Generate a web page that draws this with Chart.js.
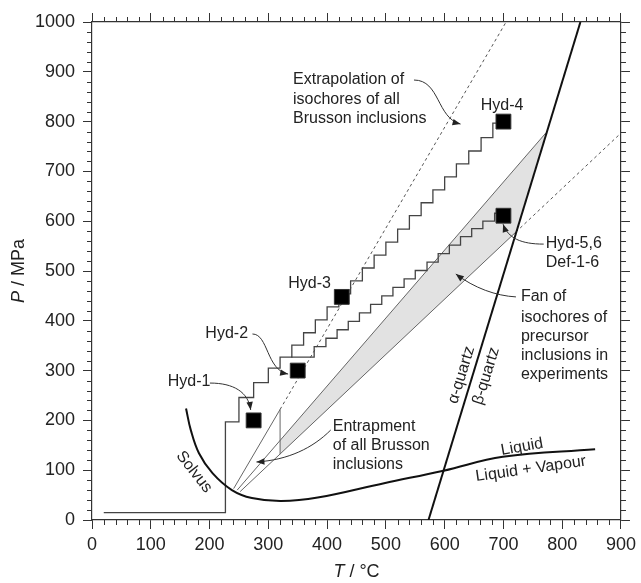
<!DOCTYPE html>
<html><head><meta charset="utf-8">
<script src="https://cdn.jsdelivr.net/npm/chart.js@4.4.1/dist/chart.umd.min.js"></script>
<style>html,body{margin:0;padding:0;background:#fff}canvas{display:block}</style>
</head><body>
<canvas id="c" width="641" height="583"></canvas>
<script>
// ---- tick labels ----
const xTicks = [0,100,200,300,400,500,600,700,800,900];
const yTicks = [0,100,200,300,400,500,600,700,800,900,1000];

// ---- sample squares ----
const sampleNames = ['Hyd-1','Hyd-2','Hyd-3','Hyd-4','Hyd-5,6'];
const sampleT = [275, 350, 425, 700, 700];
const sampleP = [200, 300, 448, 800, 611];

// ---- upper staircase (to Hyd-4) ----
const upStepT = [20, 227, 250, 275, 300, 320, 340, 360, 380, 400, 420, 440, 460, 480, 500, 520, 540, 560, 580, 600, 620, 641, 662, 682, 692];
const upStepP = [15, 197, 246, 276, 305, 327, 351, 376, 402, 428, 454, 480, 506, 532, 558, 584, 611, 637, 663, 689, 715, 741, 768, 797, 797];

// ---- lower staircase (to Hyd-5,6) ----
const loStepT = [339, 378, 398, 417, 436, 455, 474, 493, 512, 531, 550, 570, 589, 608, 627, 646, 665, 685, 692];
const loStepP = [327, 348, 365, 382, 399, 416, 433, 450, 467, 484, 501, 518, 535, 552, 569, 585, 600, 616, 616];

// ---- solvus + liquid / liquid+vapour curve ----
const solvusT = [160, 168, 182, 205, 238, 272, 322, 384, 497, 598, 699, 856];
const solvusP = [224, 181, 134, 94, 60, 44, 38, 45, 74, 99, 127, 142];

// ---- alpha/beta quartz transition ----
const quartzT = [572.5, 831];
const quartzP = [0, 1000];

// ---- isochore lines ----
const isoAT = [241, 320];          // steep isochore (solid part)
const isoAP = [63, 222];
const isoADashT = [320, 704.5];    // extrapolation (dashed)
const isoADashP = [222, 1000];
const fanUpT = [247, 772];
const fanUpP = [60, 777];
const fanLoT = [252, 721];
const fanLoP = [57, 578];
const fanLoDashT = [721, 900];
const fanLoDashP = [578, 777];
const fanEdgeT = [320, 320];
const fanEdgeP = [132, 222];

// ---- grey fan polygon ----
const fanPolyT = [320, 772, 721, 320];
const fanPolyP = [160, 777, 578, 132];

const pts = (T, P) => T.map((t, i) => ({x: t, y: P[i]}));
const FONT = '"Liberation Sans", Arial, Helvetica, sans-serif';

function lineDs(T, P, o) {
  return Object.assign({type: 'scatter', data: pts(T, P), showLine: true, pointRadius: 0,
    borderColor: '#666', borderWidth: 1, fill: false, tension: 0}, o);
}

const datasets = [
  Object.assign(lineDs(sampleT, sampleP, {}), {showLine: false, pointStyle: 'rect', pointRadius: 10.5,
    backgroundColor: '#000', borderColor: '#333', borderWidth: 1, order: 0}),
  lineDs(quartzT, quartzP, {borderColor: '#111', borderWidth: 2, order: 2}),
  lineDs(solvusT, solvusP, {borderColor: '#111', borderWidth: 2, tension: 0.4, order: 2}),
  lineDs(upStepT, upStepP, {borderColor: '#444', borderWidth: 1.3, stepped: true, order: 4}),
  lineDs(loStepT, loStepP, {borderColor: '#444', borderWidth: 1.3, stepped: true, order: 4}),
  lineDs(isoAT, isoAP, {order: 6}),
  lineDs(isoADashT, isoADashP, {borderColor: '#555', borderDash: [3, 3], order: 6}),
  lineDs(fanUpT, fanUpP, {order: 6}),
  lineDs(fanLoT, fanLoP, {order: 6}),
  lineDs(fanLoDashT, fanLoDashP, {borderColor: '#555', borderDash: [3, 3], order: 6}),
  lineDs(fanEdgeT, fanEdgeP, {order: 6}),
  lineDs(fanPolyT, fanPolyP, {borderWidth: 0, borderColor: 'rgba(0,0,0,0)', backgroundColor: '#e2e2e2', fill: 'shape', order: 10})
];

const notes = [
  ['Hyd-1', 165.2, 277, 'center', 0],
  ['Hyd-2', 229.2, 373.5, 'center', 0],
  ['Hyd-3', 370.3, 474, 'center', 0],
  ['Hyd-4', 697.8, 833, 'center', 0],
  ['Extrapolation of', 342, 883.5, 'left', 0],
  ['isochores of all', 342, 843.4, 'left', 0],
  ['Brusson inclusions', 342, 805.2, 'left', 0],
  ['Hyd-5,6', 772, 556, 'left', 0],
  ['Def-1-6', 772, 516, 'left', 0],
  ['Fan of', 729.8, 448.4, 'left', 0],
  ['isochores of', 729.8, 407, 'left', 0],
  ['precursor', 729.8, 368, 'left', 0],
  ['inclusions in', 729.8, 329.3, 'left', 0],
  ['experiments', 729.8, 291.2, 'left', 0],
  ['Entrapment', 409.6, 187.3, 'left', 0],
  ['of all Brusson', 409.6, 149.2, 'left', 0],
  ['inclusions', 409.6, 111.8, 'left', 0],
  ['Solvus', 173.6, 96.4, 'center', 52],
  ['α-quartz', 628.7, 291, 'center', -73],
  ['β-quartz', 670.8, 289, 'center', -73],
  ['Liquid', 731.5, 146.6, 'center', -10],
  ['Liquid + Vapour', 746.6, 102.4, 'center', -8]
];

const arrows = [
  [[200.6, 275], [241, 275], [266, 257], [270, 221]],
  [[273, 373.5], [300, 373.5], [296.6, 301], [333.7, 293]],
  [[547.8, 883.5], [592, 883.5], [586.5, 807], [627, 795]],
  [[768.5, 554], [729.8, 554], [707.9, 566], [699.4, 594]],
  [[721.3, 448], [687.6, 450], [650, 466], [619, 494]],
  [[406.2, 180.7], [375.8, 144.6], [333.7, 120.5], [279.8, 116.5]]
];

const xMinor = [], yMinor = [];
for (let v = 0; v <= 900; v += 20) if (v % 100) xMinor.push(v);
for (let v = 0; v <= 1000; v += 20) if (v % 100) yMinor.push(v);

const deco = {
  id: 'deco',
  afterDraw(chart) {
    const {ctx, chartArea: a, scales: {x, y}} = chart;
    const X = v => x.getPixelForValue(v), Y = v => y.getPixelForValue(v);
    ctx.save();
    // minor ticks
    ctx.strokeStyle = '#333'; ctx.lineWidth = 1; ctx.beginPath();
    xMinor.forEach(v => { const p = Math.round(X(v)) + 0.5;
      ctx.moveTo(p, a.bottom); ctx.lineTo(p, a.bottom + 5);
      ctx.moveTo(p, a.top); ctx.lineTo(p, a.top - 5); });
    yMinor.forEach(v => { const p = Math.round(Y(v)) + 0.5;
      ctx.moveTo(a.left, p); ctx.lineTo(a.left - 5, p);
      ctx.moveTo(a.right, p); ctx.lineTo(a.right + 5, p); });
    ctx.stroke();
    // annotation texts
    ctx.fillStyle = '#222';
    ctx.textBaseline = 'middle';
    notes.forEach(([s, t, p, al, rot]) => {
      ctx.save(); ctx.translate(X(t), Y(p)); ctx.rotate(rot * Math.PI / 180);
      ctx.font = '16px ' + FONT; ctx.textAlign = al; ctx.fillText(s, 0, 0); ctx.restore();
    });
    // arrows
    ctx.strokeStyle = '#333'; ctx.fillStyle = '#222'; ctx.lineWidth = 1;
    arrows.forEach(ar => {
      const q = ar.map(([t, p]) => [X(t), Y(p)]);
      ctx.beginPath(); ctx.moveTo(q[0][0], q[0][1]);
      ctx.bezierCurveTo(q[1][0], q[1][1], q[2][0], q[2][1], q[3][0], q[3][1]); ctx.stroke();
      const ang = Math.atan2(q[3][1] - q[2][1], q[3][0] - q[2][0]);
      const L = 8, W = 3.2, ex = q[3][0], ey = q[3][1];
      ctx.beginPath(); ctx.moveTo(ex, ey);
      ctx.lineTo(ex - L * Math.cos(ang) + W * Math.sin(ang), ey - L * Math.sin(ang) - W * Math.cos(ang));
      ctx.lineTo(ex - L * Math.cos(ang) - W * Math.sin(ang), ey - L * Math.sin(ang) + W * Math.cos(ang));
      ctx.closePath(); ctx.fill();
    });
    // axis titles
    ctx.fillStyle = '#222'; ctx.textBaseline = 'middle'; ctx.textAlign = 'left';
    const it = 'italic 18px ' + FONT, rg = '18px ' + FONT;
    function title(a1, a2, cx, cy, rot) {
      ctx.save(); ctx.translate(cx, cy); ctx.rotate(rot);
      ctx.font = it; const w1 = ctx.measureText(a1).width;
      ctx.font = rg; const w2 = ctx.measureText(a2).width;
      const s = -(w1 + w2) / 2;
      ctx.font = it; ctx.fillText(a1, s, 0);
      ctx.font = rg; ctx.fillText(a2, s + w1, 0);
      ctx.restore();
    }
    title('T', ' / °C', (a.left + a.right) / 2, a.bottom + 52, 0);
    title('P', ' / MPa', a.left - 73, (a.top + a.bottom) / 2, -Math.PI / 2);
    ctx.restore();
  }
};

const gridOpt = {drawOnChartArea: false, drawTicks: true, tickLength: 9, color: '#333', lineWidth: 1};
const borderOpt = {display: true, color: '#333', width: 1.2};
const tickFont = {family: FONT, size: 18};
const plain = v => String(v);

new Chart(document.getElementById('c'), {
  type: 'scatter',
  data: {datasets},
  options: {
    responsive: false, animation: false,
    layout: {padding: 0},
    plugins: {legend: {display: false}, tooltip: {enabled: false}},
    scales: {
      x: {type: 'linear', position: 'bottom', min: 0, max: 900,
        afterBuildTicks: s => { s.ticks = xTicks.map(v => ({value: v})); },
        ticks: {font: tickFont, color: '#222', padding: 5, maxRotation: 0, autoSkip: false, callback: plain},
        grid: gridOpt, border: borderOpt, afterFit: s => { s.height = 63; }},
      x2: {type: 'linear', axis: 'x', position: 'top', min: 0, max: 900,
        afterBuildTicks: s => { s.ticks = xTicks.map(v => ({value: v})); },
        ticks: {display: false}, grid: gridOpt, border: borderOpt, afterFit: s => { s.height = 22; }},
      y: {type: 'linear', position: 'left', min: 0, max: 1000,
        afterBuildTicks: s => { s.ticks = yTicks.map(v => ({value: v})); },
        ticks: {font: tickFont, color: '#222', padding: 8, autoSkip: false, callback: plain},
        grid: gridOpt, border: borderOpt, afterFit: s => { s.width = 92; }},
      y2: {type: 'linear', axis: 'y', position: 'right', min: 0, max: 1000,
        afterBuildTicks: s => { s.ticks = yTicks.map(v => ({value: v})); },
        ticks: {display: false}, grid: gridOpt, border: borderOpt, afterFit: s => { s.width = 15; }}
    }
  },
  plugins: [deco]
});
</script>
</body></html>
